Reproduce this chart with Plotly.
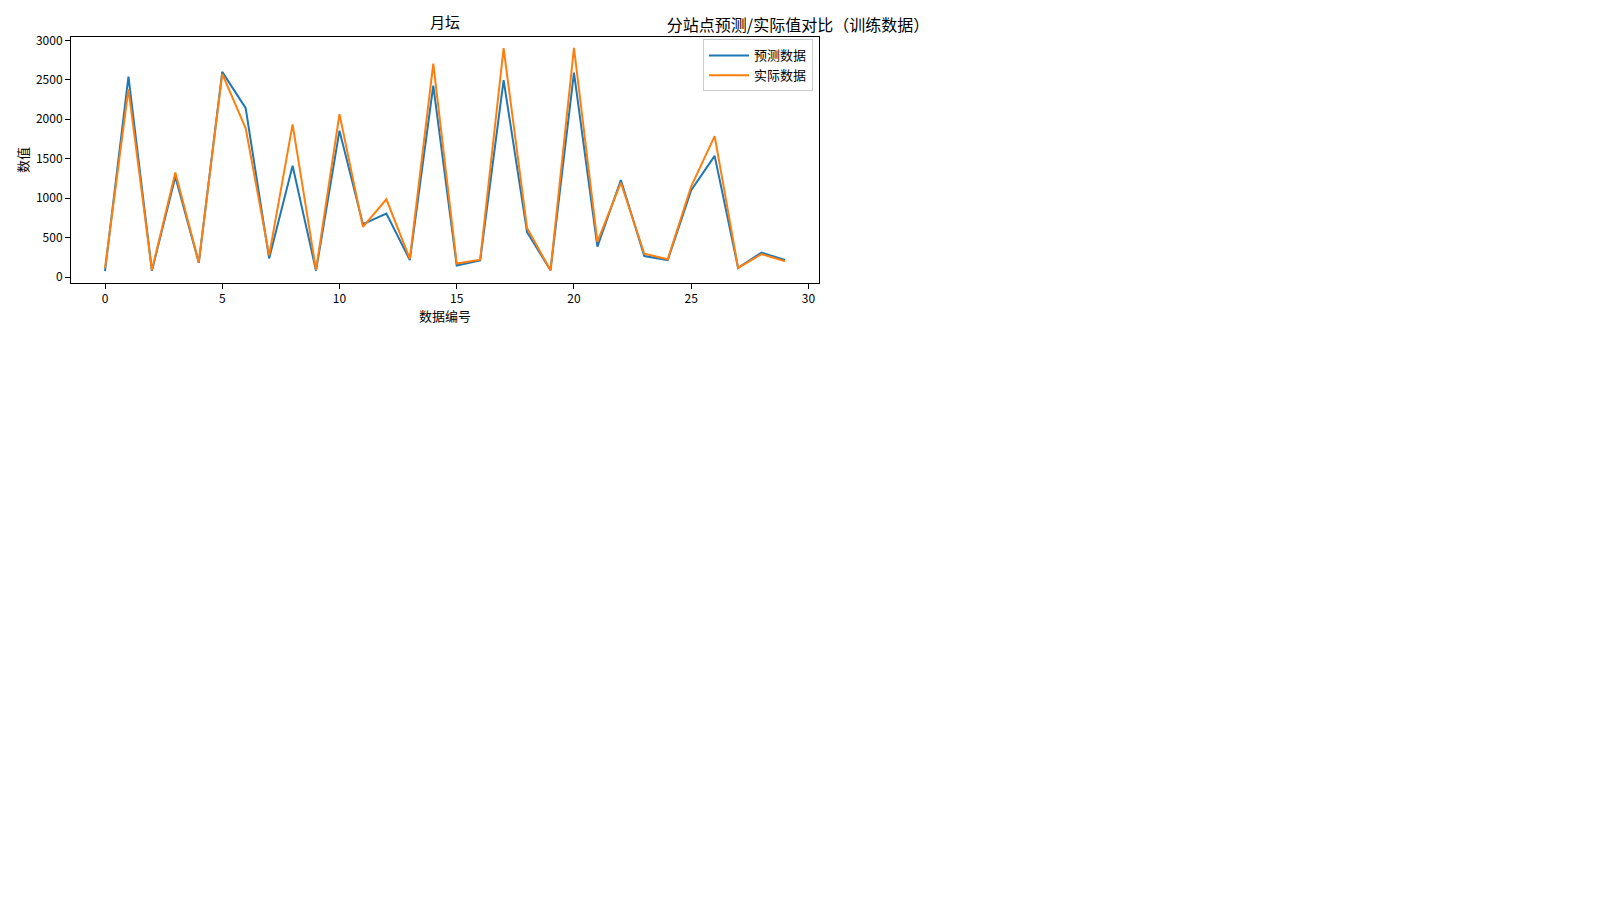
import plotly.graph_objects as go

idx = list(range(30))
pred = [75, 2540, 80, 1270, 180, 2600, 2140, 235, 1410, 80,
        1855, 670, 805, 215, 2425, 145, 210, 2495, 570, 85,
        2590, 385, 1230, 265, 215, 1100, 1535, 115, 310, 215]
actual = [110, 2380, 85, 1325, 185, 2575, 1885, 275, 1935, 90,
          2065, 635, 985, 230, 2705, 170, 220, 2900, 620, 85,
          2905, 445, 1195, 295, 225, 1150, 1785, 115, 290, 200]

FONT = "Noto Sans CJK SC, Noto Sans, DejaVu Sans, sans-serif"

fig = go.Figure()
fig.add_trace(go.Scatter(x=idx, y=pred, mode="lines", name="预测数据",
                         line=dict(color="#1f77b4", width=2)))
fig.add_trace(go.Scatter(x=idx, y=actual, mode="lines", name="实际数据",
                         line=dict(color="#ff7f0e", width=2)))

L, R, T, B = 71, 819, 37, 283
fig.update_layout(
    width=1600, height=900,
    margin=dict(l=L, r=1600 - R, t=T, b=900 - B, pad=0),
    paper_bgcolor="white", plot_bgcolor="white",
    font=dict(family=FONT, size=12, color="black"),
    title=dict(text="分站点预测/实际值对比（训练数据）", x=798 / 1600, xanchor="center",
               xref="container", y=1 - 25 / 900, yref="container", yanchor="middle",
               font=dict(size=16, family=FONT, color="black")),
    showlegend=True,
    legend=dict(x=0.992, xanchor="right", y=0.99, yanchor="top",
                bordercolor="#cccccc", borderwidth=1, bgcolor="white",
                itemwidth=40, font=dict(size=13, family=FONT)),
    annotations=[dict(text="月坛", xref="paper", yref="paper", x=0.5, y=1 + (T - 22) / (B - T),
                      xanchor="center", yanchor="middle", showarrow=False,
                      font=dict(size=15, family=FONT, color="black"))],
)
fig.update_xaxes(range=[-1.45, 30.45], tickmode="array", tickvals=[0, 5, 10, 15, 20, 25, 30],
                 showgrid=False, zeroline=False, showline=True, linecolor="black", linewidth=1,
                 mirror=True, ticks="outside", ticklen=5, tickcolor="black",
                 title=dict(text="数据编号", font=dict(size=13), standoff=6))
fig.update_yaxes(range=[-76, 3042], tickmode="array", tickvals=[0, 500, 1000, 1500, 2000, 2500, 3000],
                 showgrid=False, zeroline=False, showline=True, linecolor="black", linewidth=1,
                 mirror=True, ticks="outside", ticklen=5, tickcolor="black",
                 title=dict(text="数值", font=dict(size=13), standoff=4))
fig.write_html("out.html")
